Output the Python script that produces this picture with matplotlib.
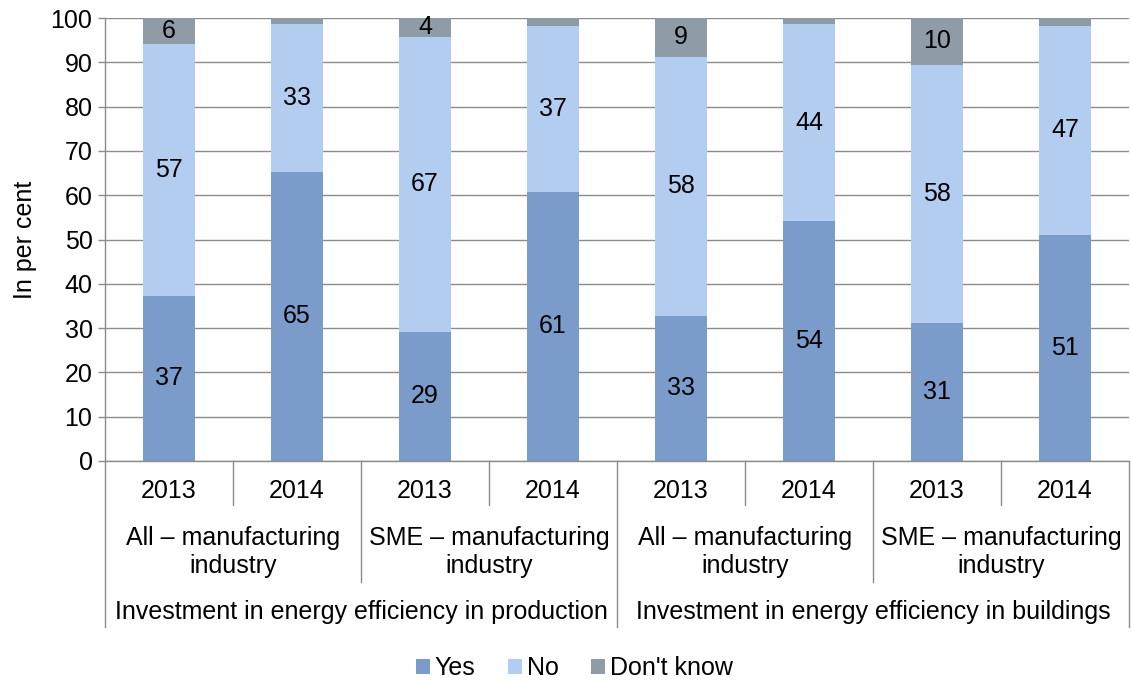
import matplotlib.pyplot as plt

plt.rcParams['font.family'] = ['Liberation Sans', 'DejaVu Sans']

# data (per cent)
years = ['2013', '2014', '2013', '2014', '2013', '2014', '2013', '2014']
groups = ['All – manufacturing\nindustry', 'SME – manufacturing\nindustry',
          'All – manufacturing\nindustry', 'SME – manufacturing\nindustry']
topics = ['Investment in energy efficiency in production',
          'Investment in energy efficiency in buildings']
yes = [37.3, 65.3, 29.2, 60.8, 32.8, 54.1, 31.2, 51.1]
no = [56.8, 33.3, 66.6, 37.4, 58.4, 44.5, 58.3, 47.1]
dont_know = [5.9, 1.4, 4.2, 1.8, 8.8, 1.4, 10.5, 1.8]

c_yes = '#7b9bcb'
c_no = '#b3cdf1'
c_dk = '#8f9ca7'
grey = '#8c8c8c'
fs = 18

W, H = 1131, 684
fig = plt.figure(figsize=(W / 100, H / 100), dpi=100)
ax = fig.add_axes([105 / W, 1 - 461 / H, (1129 - 105) / W, (461 - 18) / H])

x = list(range(len(years)))
bw = 0.41
b1 = ax.bar(x, yes, bw, color=c_yes, label='Yes', zorder=2)
b2 = ax.bar(x, no, bw, bottom=yes, color=c_no, label='No', zorder=2)
bottom3 = [a + b for a, b in zip(yes, no)]
b3 = ax.bar(x, dont_know, bw, bottom=bottom3, color=c_dk, label="Don't know", zorder=2)

# data labels
for i in x:
    ax.text(i, yes[i] / 2, f'{round(yes[i])}', ha='center', va='center', fontsize=fs)
    ax.text(i, yes[i] + no[i] / 2, f'{round(no[i])}', ha='center', va='center', fontsize=fs)
    if dont_know[i] >= 3:
        ax.text(i, bottom3[i] + dont_know[i] / 2, f'{round(dont_know[i])}',
                ha='center', va='center', fontsize=fs)

ax.set_xlim(-0.5, 7.5)
ax.set_ylim(0, 100)
ax.set_yticks(range(0, 101, 10))
ax.yaxis.grid(True, color=grey, linewidth=1, zorder=0)
ax.set_axisbelow(True)
ax.tick_params(axis='y', labelsize=fs, length=5, color=grey, width=1, pad=4)
ax.set_xticks([])
for s in ['top', 'right']:
    ax.spines[s].set_visible(False)
for s in ['left', 'bottom']:
    ax.spines[s].set_color(grey)
    ax.spines[s].set_linewidth(1)
ax.set_ylabel('In per cent', fontsize=fs, labelpad=10)

# multi-level category axis
ah = 461 - 18
tr = ax.get_xaxis_transform()
def px(p):
    return -(p - 461) / ah

for i, yr in enumerate(years):
    ax.text(i, px(491), yr, transform=tr, ha='center', va='center', fontsize=fs)
for g, lab in enumerate(groups):
    ax.text(2 * g + 0.5, px(552), lab, transform=tr, ha='center', va='center',
            fontsize=fs, linespacing=1.2)
for t, lab in enumerate(topics):
    ax.text(4 * t + 1.5, px(612), lab, transform=tr, ha='center', va='center', fontsize=fs)

for xs in [0.5, 2.5, 4.5, 6.5]:
    ax.plot([xs, xs], [0, px(505)], transform=tr, color=grey, lw=1, clip_on=False)
for xs in [1.5, 5.5]:
    ax.plot([xs, xs], [0, px(582)], transform=tr, color=grey, lw=1, clip_on=False)
for xs in [-0.5, 3.5, 7.5]:
    ax.plot([xs, xs], [0, px(627)], transform=tr, color=grey, lw=1, clip_on=False)

fig.legend(handles=[b1, b2, b3], loc='center', bbox_to_anchor=(0.508, 1 - 668 / H),
           ncol=3, frameon=False, fontsize=fs, handlelength=0.55, handleheight=0.55,
           handletextpad=0.2, columnspacing=1.3)

fig.savefig('out.png', dpi=100)
